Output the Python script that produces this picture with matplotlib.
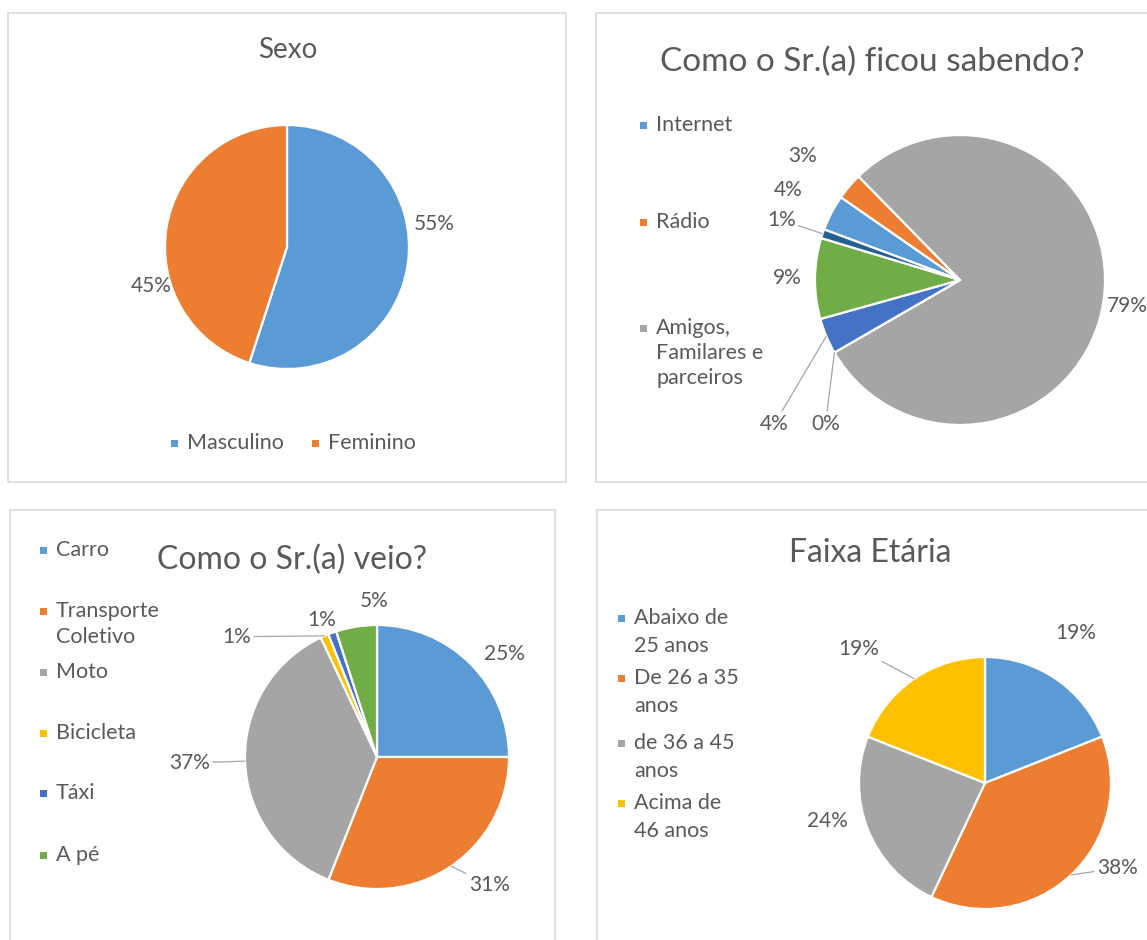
import numpy as np
import matplotlib.pyplot as plt
from matplotlib.patches import Rectangle

plt.rcParams['font.family'] = ['Lato', 'DejaVu Sans']

W, H = 1147, 940
TXT = '#595959'
LINHA = '#a6a6a6'

# paleta padrão do Excel
cores = ['#5b9bd5', '#ed7d31', '#a5a5a5', '#ffc000', '#4472c4', '#70ad47', '#255e91']

# Sexo
sexo_cat = ['Masculino', 'Feminino']
sexo_val = [55, 45]

# Como o Sr.(a) ficou sabendo? (a legenda só mostra as 3 primeiras)
saber_cat = ['Internet', 'Rádio', 'Amigos,\nFamilares e\nparceiros']
saber_val = [4, 3, 79, 0, 4, 9, 1]

# Como o Sr.(a) veio?
veio_cat = ['Carro', 'Transporte\nColetivo', 'Moto', 'Bicicleta', 'Táxi', 'A pé']
veio_val = [25, 31, 37, 1, 1, 5]

# Faixa Etária
idade_cat = ['Abaixo de\n25 anos', 'De 26 a 35\nanos', 'de 36 a 45\nanos', 'Acima de\n46 anos']
idade_val = [19, 38, 24, 19]


def fx(x):
    return x / W


def fy(y):
    return 1 - y / H


def caixa(fig, x0, y0, x1, y1):
    fig.add_artist(Rectangle((fx(x0), fy(y1)), (x1 - x0) / W, (y1 - y0) / H,
                             transform=fig.transFigure, fill=False,
                             edgecolor='#d9d9d9', lw=1.2))


def titulo(fig, x, y, texto, tam):
    fig.text(fx(x), fy(y), texto, ha='center', va='center', fontsize=tam, color=TXT)


def pizza(fig, cx, cy, r, valores, inicio, layout):
    # inicio: ângulo do primeiro setor, em graus no sentido horário a partir do topo
    m = 1.7
    ax = fig.add_axes([fx(cx - m * r), fy(cy + m * r), 2 * m * r / W, 2 * m * r / H])
    wedges, _ = ax.pie(valores, colors=cores[:len(valores)], startangle=90 - inicio,
                       counterclock=False,
                       wedgeprops=dict(edgecolor='white', linewidth=1.6))
    ax.set_xlim(-m, m)
    ax.set_ylim(-m, m)
    ax.set_aspect('equal')
    ax.axis('off')
    for w, v, (rho, desvio, guia) in zip(wedges, valores, layout):
        meio = np.deg2rad((w.theta1 + w.theta2) / 2)
        ang = meio + np.deg2rad(desvio)
        pos = (rho * np.cos(ang), rho * np.sin(ang))
        txt = '%d%%' % v
        if guia:
            borda = (np.cos(meio), np.sin(meio))
            ax.annotate(txt, xy=borda, xytext=pos, ha='center', va='center',
                        fontsize=15, color=TXT, annotation_clip=False,
                        arrowprops=dict(arrowstyle='-', color=LINHA, lw=0.9,
                                        shrinkA=0, shrinkB=0))
        else:
            ax.text(pos[0], pos[1], txt, ha='center', va='center',
                    fontsize=15, color=TXT, clip_on=False)
    return ax


def legenda(fig, itens, cores_itens, x, ys, passo=26):
    for nome, cor, y in zip(itens, cores_itens, ys):
        fig.add_artist(Rectangle((fx(x), fy(y + 3.5)), 7 / W, 7 / H,
                                 transform=fig.transFigure, color=cor, lw=0))
        for k, linha in enumerate(nome.split('\n')):
            fig.text(fx(x + 16), fy(y + k * passo), linha, ha='left', va='center',
                     fontsize=15.5, color=TXT)


fig = plt.figure(figsize=(W / 100, H / 100), dpi=100)
fig.patch.set_facecolor('white')

caixa(fig, 8, 13, 566, 482)
caixa(fig, 596, 13, 1160, 482)
caixa(fig, 10, 510, 555, 960)
caixa(fig, 597, 510, 1160, 960)

# --- Sexo ---
titulo(fig, 288, 50, 'Sexo', 20)
pizza(fig, 287, 247, 122, sexo_val, 0,
      [(1.22, 18, False), (1.16, 25, False)])
legenda(fig, sexo_cat[:1], cores[:1], 171, [443])
legenda(fig, sexo_cat[1:], cores[1:2], 312, [443])

# --- Como ficou sabendo ---
titulo(fig, 872, 62, 'Como o Sr.(a) ficou sabendo?', 24)
pizza(fig, 960, 280, 145, saber_val, 290.4,
      [(1.34, 0, False), (1.38, 2, False), (1.17, -1, False), (1.36, 17, True),
       (1.62, 15, True), (1.19, 0, False), (1.3, 0, True)])
legenda(fig, saber_cat, cores[:3], 640, [125, 222, 328], passo=25)

# --- Como veio ---
titulo(fig, 292, 560, 'Como o Sr.(a) veio?', 23)
pizza(fig, 377, 757, 132, veio_val, 0,
      [(1.24, -6, False), (1.29, 7, True), (1.42, 0, True), (1.40, 26, True),
       (1.12, 2, False), (1.18, -8, False)])
legenda(fig, veio_cat, cores[:6], 40, [550, 611, 672, 733, 793, 855])

# --- Faixa Etária ---
titulo(fig, 870, 553, 'Faixa Etária', 23)
pizza(fig, 985, 783, 126, idade_val, 0,
      [(1.39, 3, False), (1.25, 14, True), (1.29, -8, False), (1.46, 9, True)])
legenda(fig, idade_cat, cores[:4], 618, [618, 678, 743, 803], passo=28)

fig.savefig('out.png', dpi=100)
